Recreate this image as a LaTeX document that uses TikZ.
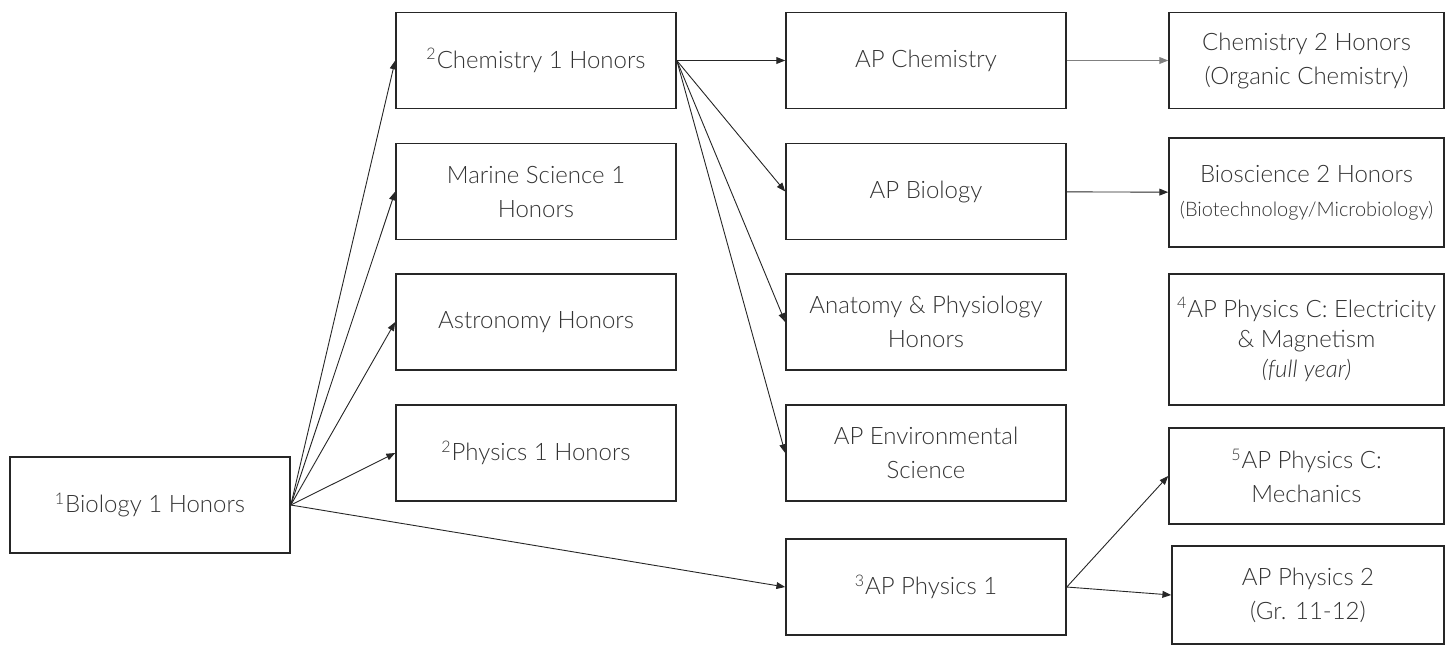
\documentclass[tikz,border=0pt]{standalone}
\usepackage{fontspec}
\setmainfont{Lato}[UprightFont=* Light, ItalicFont=* Light Italic]
\usetikzlibrary{arrows.meta}

\begin{document}
\begin{tikzpicture}[x=0.5pt, y=-0.5pt,
    course/.style={draw=black!85, line width=0.8pt, text=black!80, align=center,
      minimum width=140pt, minimum height=48pt, inner sep=0pt,
      font=\fontsize{12}{17}\selectfont},
    link/.style={-{Triangle[length=4.4pt, width=3.4pt]}, line width=0.45pt, black!85}]
  \useasboundingbox (0,0) rectangle (1445,645);

  % Starting course
  \node[course] (bio1) at (150,505) {\textsuperscript{1}Biology 1 Honors};

  % Second year options
  \node[course] (chem1) at (536,60.5) {\textsuperscript{2}Chemistry 1 Honors};
  \node[course] (marine) at (536,191.5) {Marine Science 1\\Honors};
  \node[course] (astro) at (536,322) {Astronomy Honors};
  \node[course] (phys1) at (536,453) {\textsuperscript{2}Physics 1 Honors};

  % AP level courses
  \node[course] (apchem) at (926,60.5) {AP Chemistry};
  \node[course] (apbio) at (926,191.5) {AP Biology};
  \node[course] (anat) at (926,322) {Anatomy \& Physiology\\Honors};
  \node[course] (apenv) at (926,453) {AP Environmental\\Science};
  \node[course] (apphys1) at (926,587) {\textsuperscript{3}AP Physics 1};

  % Upper level courses
  \node[course, minimum width=137.5pt] (chem2) at (1306.5,60.5) {Chemistry 2 Honors\\(Organic Chemistry)};
  \node[course, minimum width=137.5pt, minimum height=54.5pt] (biosci2) at (1306.5,192.5)
    {Bioscience 2 Honors\\{\fontsize{10}{17}\selectfont (Biotechnology/Microbiology)}};
  \node[course, minimum width=137.5pt, minimum height=65.5pt,
    font=\fontsize{12}{15}\selectfont] (apem) at (1306.5,339.5)
    {\textsuperscript{4}AP Physics C: Electricity\\\& Magnetism\\\textit{(full year)}};
  \node[course, minimum width=137.5pt] (apmech) at (1306.5,476) {\textsuperscript{5}AP Physics C:\\Mechanics};
  \node[course, minimum width=136pt, minimum height=49pt] (apphys2) at (1308,595) {AP Physics 2\\(Gr. 11-12)};

  % Arrows out of Biology 1
  \foreach \c in {chem1,marine,astro,phys1,apphys1} {
    \draw[link] (bio1.east) -- (\c.west);
  }

  % Arrows out of Chemistry 1
  \foreach \c in {apchem,apbio,anat,apenv} {
    \draw[link] (chem1.east) -- (\c.west);
  }

  % Arrows to the upper level courses
  \draw[link, black!50] (apchem) -- (chem2);
  \draw[link] (apbio) -- (biosci2);
  \draw[link] (apphys1.east) -- (apmech.west);
  \draw[link] (apphys1.east) -- (apphys2.west);
\end{tikzpicture}
\end{document}
